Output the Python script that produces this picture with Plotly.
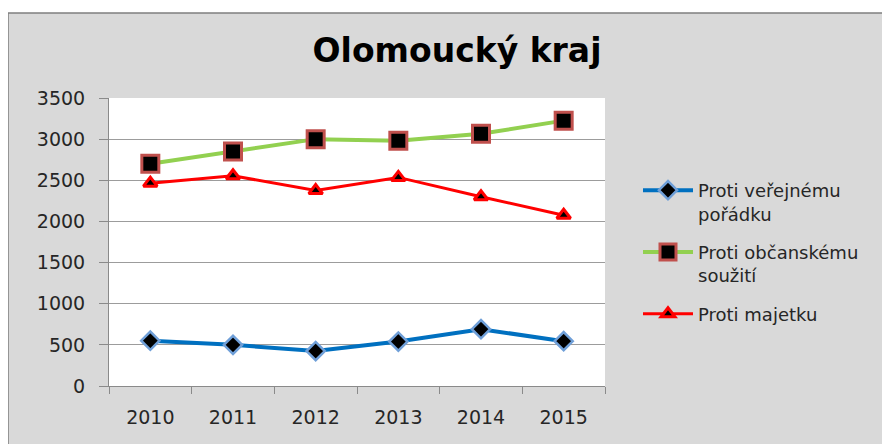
import plotly.graph_objects as go

# --- data ---------------------------------------------------------------
YEARS = ["2010", "2011", "2012", "2013", "2014", "2015"]
VEREJNY_PORADEK = [550, 500, 425, 540, 690, 545]
OBCANSKE_SOUZITI = [2700, 2850, 3000, 2980, 3065, 3225]
MAJETEK = [2465, 2555, 2375, 2535, 2300, 2075]

SERIES_NAMES = [
    "Proti veřejnému<br>pořádku",
    "Proti občanskému<br>soužití",
    "Proti majetku",
]
Y_TICKS = [0, 500, 1000, 1500, 2000, 2500, 3000, 3500]

# --- styles -------------------------------------------------------------
FONT = "DejaVu Sans"
TEXT_COLOR = "#262626"
FRAME_BG = "#d9d9d9"
GRID_COLOR = "#9c9c9c"
AXIS_COLOR = "#8a8a8a"

# page body adds an 8px margin, so screen positions are shifted by it
OFF = 8
W, H = 890, 444
# plot area on screen: left 109, right 605, top 98, bottom 386
L, R, T, B = 109 - OFF, 605 - OFF, 98 - OFF, 386 - OFF


def px_x(px):
    return (px - OFF - L) / (R - L)


def px_y(py):
    return (B - (py - OFF)) / (B - T)


fig = go.Figure()

fig.add_trace(go.Scatter(
    x=YEARS, y=VEREJNY_PORADEK, name=SERIES_NAMES[0], legendgroup="a",
    mode="lines+markers",
    line=dict(color="#0070c0", width=4),
    marker=dict(symbol="diamond", size=14, color="black",
                line=dict(color="#6f9fd8", width=2.5)),
))
fig.add_trace(go.Scatter(
    x=YEARS, y=OBCANSKE_SOUZITI, name=SERIES_NAMES[1], legendgroup="b",
    mode="lines+markers",
    line=dict(color="#92d050", width=4),
    marker=dict(symbol="square", size=17, color="black",
                line=dict(color="#c0504d", width=3)),
))
fig.add_trace(go.Scatter(
    x=YEARS, y=MAJETEK, name=SERIES_NAMES[2], legendgroup="c",
    mode="lines+markers",
    line=dict(color="#ff0000", width=3),
    marker=dict(symbol="triangle-up", size=12, color="black",
                line=dict(color="#ff0000", width=3)),
))

# grey chart frame and white plot area
fig.add_shape(type="rect", xref="paper", yref="paper", layer="below",
              x0=px_x(8), x1=px_x(W + 60), y0=px_y(H + 60), y1=px_y(13),
              fillcolor=FRAME_BG, line=dict(color="#7f7f7f", width=1.5))
fig.add_shape(type="rect", xref="paper", yref="paper", layer="below",
              x0=0, x1=1, y0=0, y1=1, fillcolor="white", line=dict(width=0))

fig.update_layout(
    width=W, height=H,
    margin=dict(l=L, r=W - R, t=T, b=H - B, pad=0, autoexpand=False),
    paper_bgcolor="white",
    plot_bgcolor="white",
    font=dict(family=FONT, color=TEXT_COLOR, size=18),
    title=dict(
        text="<b>Olomoucký kraj</b>",
        font=dict(family=FONT, size=33, color="black"),
        xref="container", x=(457 - OFF) / W, xanchor="center",
        yref="container", y=1 - (50 - OFF) / H, yanchor="middle",
    ),
    xaxis=dict(
        type="category", automargin=False,
        range=[-0.5, len(YEARS) - 0.5],
        showline=True, linecolor=AXIS_COLOR, linewidth=1,
        ticks="outside", tickson="boundaries", ticklen=7,
        tickcolor=AXIS_COLOR, showgrid=False,
        tickfont=dict(size=19, color=TEXT_COLOR),
        ticklabelstandoff=14,
    ),
    yaxis=dict(
        range=[0, 3500], tickvals=Y_TICKS, automargin=False,
        showline=True, linecolor=AXIS_COLOR, linewidth=1,
        ticks="outside", ticklen=9, tickcolor=AXIS_COLOR,
        showgrid=True, gridcolor=GRID_COLOR, gridwidth=1,
        zeroline=False,
        tickfont=dict(size=19, color=TEXT_COLOR),
        ticklabelstandoff=10,
    ),
    showlegend=True,
    legend=dict(
        x=px_x(638), xanchor="left",
        y=px_y(172), yanchor="top",
        font=dict(family=FONT, size=18, color=TEXT_COLOR),
        bgcolor="rgba(0,0,0,0)",
        traceorder="grouped", tracegroupgap=12,
        valign="top", itemwidth=50,
    ),
)

fig.write_html("out.html")
